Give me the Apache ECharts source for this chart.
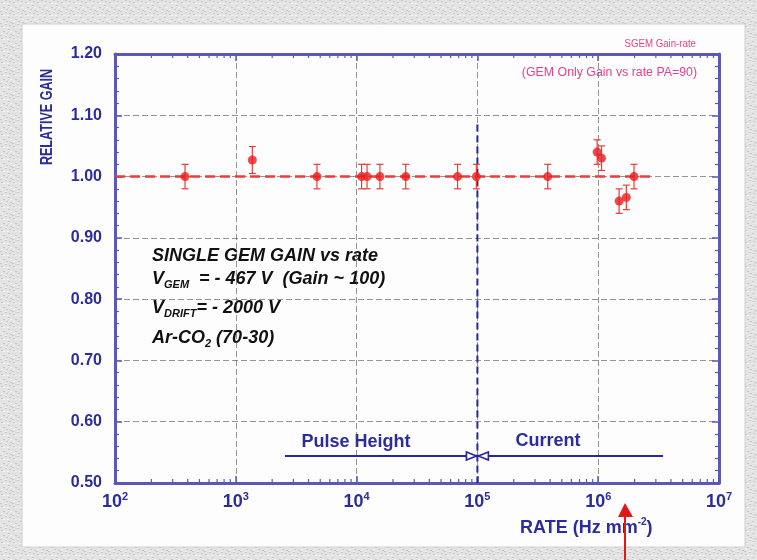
<!DOCTYPE html>
<html>
<head>
<meta charset="utf-8">
<title>Single GEM gain vs rate</title>
<script src="https://cdn.jsdelivr.net/npm/echarts@6/dist/echarts.min.js"></script>
<style>
  html, body { margin: 0; padding: 0; background: #dedede; }
  #chart { width: 757px; height: 560px; }
</style>
</head>
<body>
<div id="chart"></div>
<script>
// Measured rate (Hz mm^-2) and relative gain, with symmetric errors
const rate = [380, 1370, 4700, 11000, 12200, 15600, 25500, 68500, 98000, 382000, 980000, 1065000, 1490000, 1710000, 1980000];
const gain = [1.00, 1.027, 1.00, 1.00, 1.00, 1.00, 1.00, 1.00, 1.00, 1.00, 1.040, 1.030, 0.960, 0.966, 1.00];
const gainErr = [0.02, 0.022, 0.02, 0.02, 0.02, 0.02, 0.02, 0.02, 0.02, 0.02, 0.02, 0.02, 0.02, 0.02, 0.02];

// Reference level and the measurement-method boundary
const refLine = [[100, 1.00], [2.8e6, 1.00]];
const methodBoundary = [[1e5, 1.085], [1e5, 0.50]];
const pulseHeightRange = [[2550, 0.544], [1e5, 0.544]];
const currentRange = [[1e5, 0.544], [3.44e6, 0.544]];

// Axis ranges
const xMin = 100, xMax = 1e7;
const yMin = 0.50, yMax = 1.20, yStep = 0.10;

// Log-decade minor tick values (2..9 x 10^k)
const xMinorTicks = [];
for (let e = 2; e < 7; e++) {
  for (let m = 2; m <= 9; m++) xMinorTicks.push(m * Math.pow(10, e));
}

const NAVY = '#2c2c9c';
const AXIS = '#5a5ab4';
const RED = '#ee1c1c';
const PINK = '#e8408a';
const SANS = '"Liberation Sans", Arial, sans-serif';

// Speckled grey frame texture
function frameTexture() {
  const c = document.createElement('canvas');
  c.width = 12; c.height = 12;
  const g = c.getContext('2d');
  g.fillStyle = '#e3e3e3';
  g.fillRect(0, 0, 12, 12);
  g.fillStyle = '#c9c9c9';
  [[1, 2], [5, 0], [8, 5], [3, 7], [10, 10], [6, 9], [0, 11], [9, 1]].forEach(function (p) { g.fillRect(p[0], p[1], 2, 1); });
  g.fillStyle = '#f2f2f2';
  [[3, 3], [7, 3], [1, 9], [10, 7], [5, 11]].forEach(function (p) { g.fillRect(p[0], p[1], 2, 1); });
  return c;
}

const chart = echarts.init(document.getElementById('chart'), null, { renderer: 'canvas' });

const gridStyle = { show: true, lineStyle: { color: '#4e4e4e', width: 0.8, type: [6, 3], opacity: 0.75 } };

chart.setOption({
  backgroundColor: { image: frameTexture(), repeat: 'repeat' },
  animation: false,
  grid: { left: 115, right: 38, top: 54, bottom: 77, containLabel: false },
  xAxis: [
    {
      type: 'log', logBase: 10, min: xMin, max: xMax,
      axisLine: { show: true, lineStyle: { color: AXIS, width: 3 } },
      axisTick: { show: true, inside: true, length: 7, lineStyle: { color: AXIS, width: 1.5 } },
      splitLine: gridStyle,
      axisLabel: {
        margin: 8,
        formatter: function (v) {
          const e = Math.round(Math.log10(v));
          return '{b|10}{s|' + e + '}';
        },
        rich: {
          b: { fontFamily: SANS, fontSize: 18, fontWeight: 'bold', color: NAVY, lineHeight: 22 },
          s: { fontFamily: SANS, fontSize: 11, fontWeight: 'bold', color: NAVY, verticalAlign: 'top', lineHeight: 22 }
        }
      }
    },
    {
      type: 'log', logBase: 10, min: xMin, max: xMax, position: 'top',
      axisLine: { show: true, lineStyle: { color: AXIS, width: 3 } },
      axisTick: { show: true, inside: true, length: 7, lineStyle: { color: AXIS, width: 1.5 } },
      axisLabel: { show: false },
      splitLine: { show: false }
    }
  ],
  yAxis: [
    {
      type: 'value', min: yMin, max: yMax, interval: yStep,
      axisLine: { show: true, lineStyle: { color: AXIS, width: 3 } },
      axisTick: { show: true, inside: true, length: 7, lineStyle: { color: AXIS, width: 1.5 } },
      minorTick: { show: true, splitNumber: 5, length: 4, lineStyle: { color: AXIS, width: 1.2 } },
      splitLine: gridStyle,
      axisLabel: {
        margin: 13,
        formatter: function (v) { return v.toFixed(2); },
        fontFamily: SANS, fontSize: 16, fontWeight: 'bold', color: NAVY
      }
    },
    {
      type: 'value', min: yMin, max: yMax, interval: yStep, position: 'right',
      axisLine: { show: true, lineStyle: { color: AXIS, width: 3 } },
      axisTick: { show: true, inside: true, length: 7, lineStyle: { color: AXIS, width: 1.5 } },
      minorTick: { show: true, splitNumber: 5, length: 4, lineStyle: { color: AXIS, width: 1.2 } },
      axisLabel: { show: false },
      splitLine: { show: false }
    }
  ],
  graphic: [
    // white plotting panel inside the grey frame
    { type: 'rect', z: -10, shape: { x: 22, y: 24, width: 723, height: 523 }, style: { fill: '#fdfdfd', stroke: '#d0d0d0', lineWidth: 1 } },
    // header notes
    { type: 'text', x: 696, y: 44, scaleX: 0.88, style: { text: 'SGEM Gain-rate', align: 'right', verticalAlign: 'middle', fill: PINK, font: '11px "Liberation Sans Narrow", "Arial Narrow", Arial, sans-serif' } },
    { type: 'text', x: 697, y: 72, scaleX: 0.95, style: { text: '(GEM Only Gain vs rate PA=90)', align: 'right', verticalAlign: 'middle', fill: PINK, font: '13px "Liberation Sans Narrow", "Arial Narrow", Arial, sans-serif' } },
    // axis titles
    { type: 'text', x: 47, y: 117, rotation: Math.PI / 2, scaleX: 0.74, style: { text: 'RELATIVE GAIN', align: 'center', verticalAlign: 'middle', fill: NAVY, font: 'bold 17px ' + SANS } },
    {
      type: 'text', x: 520, y: 528,
      style: {
        text: '{t|RATE (Hz mm}{s|-2}{t|)}', verticalAlign: 'middle',
        rich: {
          t: { font: 'bold 18px ' + SANS, fill: NAVY, lineHeight: 22 },
          s: { font: 'bold 10px ' + SANS, fill: NAVY, verticalAlign: 'top', lineHeight: 22 }
        }
      }
    },
    // measurement conditions
    { type: 'text', x: 152, y: 256, style: { text: 'SINGLE GEM GAIN vs rate', verticalAlign: 'middle', fill: '#111', font: 'italic bold 18px ' + SANS } },
    {
      type: 'text', x: 152, y: 279,
      style: {
        text: '{t|V}{u|GEM}{t|  = - 467 V  (Gain ~ 100)}', verticalAlign: 'middle',
        rich: {
          t: { font: 'italic bold 18px ' + SANS, fill: '#111', lineHeight: 22 },
          u: { font: 'italic bold 11px ' + SANS, fill: '#111', lineHeight: 22, verticalAlign: 'bottom' }
        }
      }
    },
    {
      type: 'text', x: 152, y: 308,
      style: {
        text: '{t|V}{u|DRIFT}{t|= - 2000 V}', verticalAlign: 'middle',
        rich: {
          t: { font: 'italic bold 18px ' + SANS, fill: '#111', lineHeight: 22 },
          u: { font: 'italic bold 11px ' + SANS, fill: '#111', lineHeight: 22, verticalAlign: 'bottom' }
        }
      }
    },
    {
      type: 'text', x: 152, y: 338,
      style: {
        text: '{t|Ar-CO}{u|2}{t| (70-30)}', verticalAlign: 'middle',
        rich: {
          t: { font: 'italic bold 18px ' + SANS, fill: '#111', lineHeight: 22 },
          u: { font: 'italic bold 11px ' + SANS, fill: '#111', lineHeight: 22, verticalAlign: 'bottom' }
        }
      }
    },
    // method labels
    { type: 'text', x: 356, y: 442, style: { text: 'Pulse Height', align: 'center', verticalAlign: 'middle', fill: NAVY, font: 'bold 18px ' + SANS } },
    { type: 'text', x: 548, y: 441, style: { text: 'Current', align: 'center', verticalAlign: 'middle', fill: NAVY, font: 'bold 18px ' + SANS } },
    // red pointer arrow at the bottom
    { type: 'line', shape: { x1: 625, y1: 516, x2: 625, y2: 562 }, style: { stroke: '#e01818', lineWidth: 2 } },
    { type: 'polygon', shape: { points: [[625, 503], [618, 517], [633, 517]] }, style: { fill: '#e01818' } }
  ],
  series: [
    // minor log ticks on bottom and top axes
    {
      type: 'custom', xAxisIndex: 0, yAxisIndex: 0, silent: true, z: 3,
      data: xMinorTicks.map(function (v) { return [v]; }),
      renderItem: function (params, api) {
        const v = api.value(0);
        const b = api.coord([v, yMin]);
        const t = api.coord([v, yMax]);
        const st = { stroke: AXIS, lineWidth: 1.2 };
        return {
          type: 'group',
          children: [
            { type: 'line', shape: { x1: b[0], y1: b[1], x2: b[0], y2: b[1] - 4 }, style: st },
            { type: 'line', shape: { x1: t[0], y1: t[1], x2: t[0], y2: t[1] + 4 }, style: st }
          ]
        };
      }
    },
    // reference level at 1.00
    {
      type: 'line', data: refLine, symbol: 'none', silent: true, z: 2,
      lineStyle: { color: '#ee3a3a', width: 2.5, type: [10, 5] }
    },
    // boundary between pulse-height and current measurements
    {
      type: 'line', data: methodBoundary, symbol: 'none', silent: true, z: 2,
      lineStyle: { color: '#28289a', width: 2, type: [7, 4] }
    },
    {
      type: 'line', data: pulseHeightRange, symbol: 'none', silent: true,
      lineStyle: { color: '#28289a', width: 2 }
    },
    {
      type: 'line', data: currentRange, symbol: 'none', silent: true,
      lineStyle: { color: '#28289a', width: 2 }
    },
    // arrowheads meeting at the boundary
    {
      type: 'custom', silent: true, z: 4,
      data: [[1e5, 0.544]],
      renderItem: function (params, api) {
        const p = api.coord([api.value(0), api.value(1)]);
        const st = { stroke: '#28289a', fill: '#fdfdfd', lineWidth: 1.6 };
        return {
          type: 'group',
          children: [
            { type: 'polygon', shape: { points: [[p[0] - 1, p[1]], [p[0] - 11, p[1] - 4], [p[0] - 11, p[1] + 4]] }, style: st },
            { type: 'polygon', shape: { points: [[p[0] + 1, p[1]], [p[0] + 11, p[1] - 4], [p[0] + 11, p[1] + 4]] }, style: st }
          ]
        };
      }
    },
    // error bars
    {
      type: 'custom', silent: true, z: 5,
      data: rate.map(function (r, i) { return [r, gain[i] - gainErr[i], gain[i] + gainErr[i]]; }),
      renderItem: function (params, api) {
        const lo = api.coord([api.value(0), api.value(1)]);
        const hi = api.coord([api.value(0), api.value(2)]);
        const st = { stroke: '#e43c3c', lineWidth: 1.2 };
        return {
          type: 'group',
          children: [
            { type: 'line', shape: { x1: lo[0], y1: lo[1], x2: hi[0], y2: hi[1] }, style: st },
            { type: 'line', shape: { x1: lo[0] - 3.5, y1: lo[1], x2: lo[0] + 3.5, y2: lo[1] }, style: st },
            { type: 'line', shape: { x1: hi[0] - 3.5, y1: hi[1], x2: hi[0] + 3.5, y2: hi[1] }, style: st }
          ]
        };
      }
    },
    // measured points
    {
      type: 'scatter', z: 6, silent: true,
      data: rate.map(function (r, i) { return [r, gain[i]]; }),
      symbol: 'circle', symbolSize: 9,
      itemStyle: { color: RED }
    }
  ]
});
</script>
</body>
</html>
